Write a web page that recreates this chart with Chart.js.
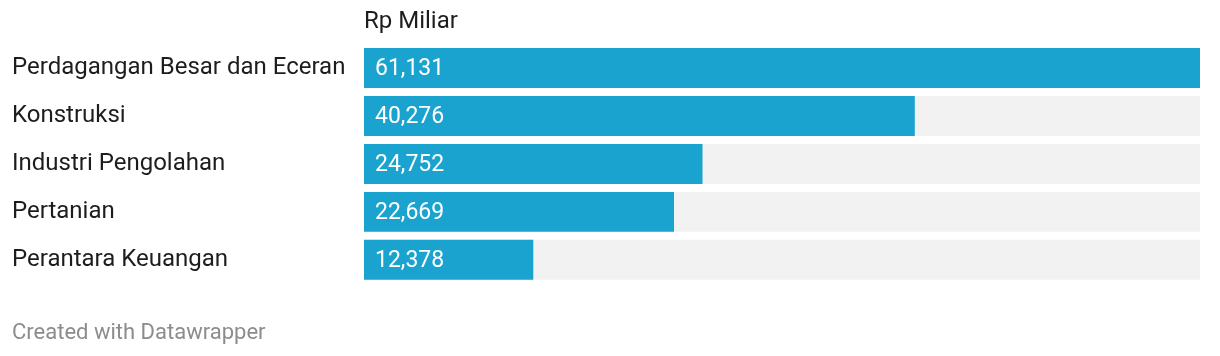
<!DOCTYPE html>
<html>
<head>
<meta charset="utf-8">
<script src="https://cdn.jsdelivr.net/npm/chart.js@4/dist/chart.umd.min.js"></script>
<style>
  html, body { margin: 0; padding: 0; background: #ffffff; }
  #wrap { width: 1220px; height: 356px; position: relative; }
</style>
</head>
<body>
<div id="wrap"><canvas id="c" width="1220" height="356"></canvas></div>
<script>
const categories = ["Perdagangan Besar dan Eceran", "Konstruksi", "Industri Pengolahan", "Pertanian", "Perantara Keuangan"];
const values = [61131, 40276, 24752, 22669, 12378];
const unitTitle = "Rp Miliar";
const footerText = "Created with Datawrapper";

const maxValue = Math.max(...values);
const trackValues = categories.map(() => maxValue);

const FONT = "Roboto, 'Noto Sans', sans-serif";

const valueLabels = {
  id: 'valueLabels',
  afterDatasetsDraw(chart) {
    const ctx = chart.ctx;
    const meta = chart.getDatasetMeta(1);
    ctx.save();
    ctx.font = "400 23px " + FONT;
    ctx.fillStyle = "#ffffff";
    ctx.textAlign = "left";
    ctx.textBaseline = "middle";
    meta.data.forEach((bar, i) => {
      const v = values[i];
      ctx.fillText(v.toLocaleString('en-US'), bar.base + 11, bar.y + 1);
    });
    ctx.restore();
  }
};

new Chart(document.getElementById('c'), {
  type: 'bar',
  data: {
    labels: categories,
    datasets: [
      { data: trackValues, backgroundColor: '#f2f2f2', order: 2, barPercentage: 40/48, categoryPercentage: 1 },
      { data: values, backgroundColor: '#1aa3cf', order: 1, barPercentage: 40/48, categoryPercentage: 1 }
    ]
  },
  options: {
    indexAxis: 'y',
    responsive: false,
    animation: false,
    devicePixelRatio: 1,
    datasets: { bar: { grouped: false, borderWidth: 0 } },
    layout: { padding: { left: 12, right: 20, top: 8, bottom: 9 } },
    scales: {
      x: { display: false, min: 0, max: maxValue },
      y: {
        grid: { display: false },
        border: { display: false },
        ticks: {
          crossAlign: 'far',
          padding: 0,
          color: '#1d1d1d',
          font: { family: FONT, size: 24 }
        },
        afterFit(scale) { scale.width = 352; }
      }
    },
    plugins: {
      legend: { display: false },
      tooltip: { enabled: false },
      title: {
        display: true,
        text: unitTitle,
        align: 'start',
        fullSize: false,
        color: '#1d1d1d',
        font: { family: FONT, size: 24, weight: '400', lineHeight: 1.2 },
        padding: { top: 0, bottom: 7.2 }
      },
      subtitle: {
        display: true,
        text: footerText,
        position: 'bottom',
        align: 'start',
        color: '#8c8c8c',
        font: { family: FONT, size: 22, weight: '400', lineHeight: 1.2 },
        padding: { top: 36.8, bottom: 0 }
      }
    }
  },
  plugins: [valueLabels]
});
</script>
</body>
</html>
